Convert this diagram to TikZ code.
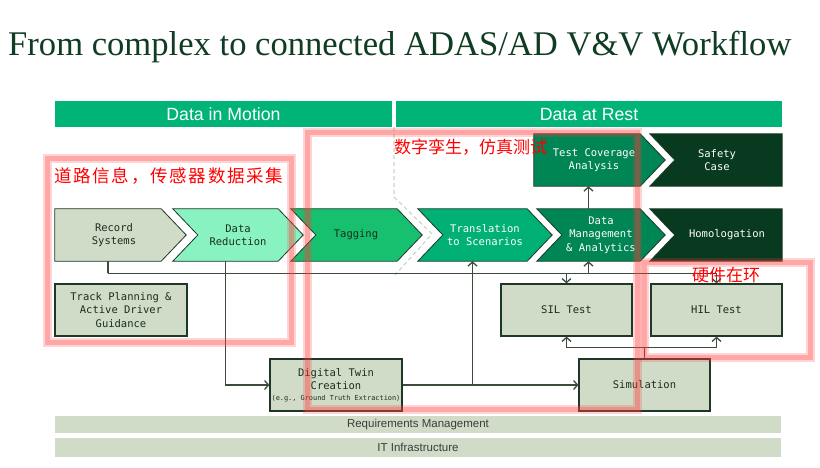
\documentclass[tikz,border=0pt]{standalone}
\usepackage{fontspec}
\setmainfont{Liberation Serif}
\newfontfamily\hdfont{Liberation Sans}
\newfontfamily\chevfont{DejaVu Sans Mono}
\newfontfamily\cjkfont[LetterSpace=10]{Noto Sans CJK SC}
\newfontfamily\cjkfontb{Noto Sans CJK SC}
\usetikzlibrary{arrows.meta}
\definecolor{cTitle}{RGB}{16,60,35}
\definecolor{cHdr}{RGB}{0,180,120}
\definecolor{cRec}{RGB}{208,220,200}
\definecolor{cDR}{RGB}{136,242,192}
\definecolor{cTag}{RGB}{22,192,110}
\definecolor{cTr}{RGB}{0,176,116}
\definecolor{cDM}{RGB}{0,133,84}
\definecolor{cHom}{RGB}{8,58,32}
\definecolor{cBorder}{RGB}{30,55,40}
\definecolor{cDark}{RGB}{25,45,30}
\definecolor{cLine}{RGB}{60,75,60}
\definecolor{cBarTxt}{RGB}{60,60,60}
\definecolor{cDash}{RGB}{200,215,200}
\definecolor{cRed}{RGB}{255,60,60}
\begin{document}
\begin{tikzpicture}[x=1pt,y=-1pt,
  body/.style={inner sep=0pt, minimum height=52pt},
  chev/.style={draw=cBorder, line width=0.8pt, line join=miter},
  ctext/.style={font=\chevfont\fontsize{10.5}{13.5}\selectfont, align=center, inner sep=0pt},
  box/.style={draw=cBorder, line width=1.2pt, fill=cRec, minimum height=52pt, inner sep=0pt,
    font=\chevfont\fontsize{10.5}{13.5}\selectfont, align=center, text=cDark},
  hdr/.style={fill=cHdr, text=white, font=\hdfont\fontsize{17.7}{20}\selectfont, minimum height=26pt, inner sep=0pt},
  bar/.style={fill=cRec, text=cBarTxt, font=\hdfont\fontsize{11.5}{13}\selectfont, inner sep=0pt},
  conn/.style={draw=cLine, line width=1.3pt},
  arr/.style={conn, -{Straight Barb[length=4pt,width=9pt,line width=1.3pt]}},
  dashline/.style={draw=cDash, line width=1.2pt, dash pattern=on 4pt off 3pt},
  redouter/.style={draw=cRed, line width=9pt, opacity=0.22},
  redinner/.style={draw=cRed, line width=5pt, opacity=0.3},
  redtext/.style={text=red, inner sep=0pt, anchor=west}
]
\fill[white] (0,0) rectangle (820,467);
\useasboundingbox (0,0) rectangle (820,467);

% title
\node[anchor=base west, inner sep=0pt, text=cTitle, font=\fontsize{34.6}{40}\selectfont] (title) at (8,55) {From complex to connected ADAS/AD V\&V Workflow};

% headers
\node[hdr, minimum width=337pt] (dim) at (223.5,114) {Data in Motion};
\node[hdr, minimum width=386pt] (dar) at (589,114) {Data at Rest};

% dashed separator
\draw[dashline] (394,127) -- (394,197) -- (432,234) -- (395,275);

% chevron bodies
\node[body, minimum width=106pt] (rec) at (108,235) {};
\node[body, minimum width=105pt] (dr) at (225.5,235) {};
\node[body, minimum width=106pt] (tag) at (344,235) {};
\node[body, minimum width=109pt] (tr) at (472.5,235) {};
\node[body, minimum width=103pt] (dm) at (588.5,235) {};
\node[body, minimum width=132pt] (hom) at (716,235) {};
\node[body, minimum width=106pt] (tc) at (587,160) {};
\node[body, minimum width=132pt] (saf) at (716,160) {};

\path[chev, fill=cRec] (rec.north west) -- (rec.north east) -- ([xshift=25pt]rec.east) -- (rec.south east) -- (rec.south west) -- cycle;
\path[chev, fill=cDR] (dr.north west) -- (dr.north east) -- ([xshift=25pt]dr.east) -- (dr.south east) -- (dr.south west) -- ([xshift=25pt]dr.west) -- cycle;
\path[chev, fill=cTag] (tag.north west) -- (tag.north east) -- ([xshift=25pt]tag.east) -- (tag.south east) -- (tag.south west) -- ([xshift=25pt]tag.west) -- cycle;
\path[chev, fill=cTr] (tr.north west) -- (tr.north east) -- ([xshift=25pt]tr.east) -- (tr.south east) -- (tr.south west) -- ([xshift=25pt]tr.west) -- cycle;
\path[chev, fill=cDM] (dm.north west) -- (dm.north east) -- ([xshift=25pt]dm.east) -- (dm.south east) -- (dm.south west) -- ([xshift=25pt]dm.west) -- cycle;
\path[chev, fill=cHom] (hom.north west) -- (hom.north east) -- (hom.south east) -- (hom.south west) -- ([xshift=25pt]hom.west) -- cycle;
\path[chev, fill=cDM] (tc.north west) -- (tc.north east) -- ([xshift=25pt]tc.east) -- (tc.south east) -- (tc.south west) -- cycle;
\path[chev, fill=cHom] (saf.north west) -- (saf.north east) -- (saf.south east) -- (saf.south west) -- ([xshift=25pt]saf.west) -- cycle;

% chevron texts
\node[ctext, text=cDark] (rec-t) at (114,235) {Record\\Systems};
\node[ctext, text=cDark] (dr-t) at (238,235) {Data\\Reduction};
\node[ctext, text=cDark] (tag-t) at (356,235) {Tagging};
\node[ctext, text=white] (tr-t) at (485,235) {Translation\\to Scenarios};
\node[ctext, text=white] (dm-t) at (601,235) {Data\\Management\\\& Analytics};
\node[ctext, text=white] (hom-t) at (727,235) {Homologation};
\node[ctext, text=white] (tc-t) at (594,160) {Test Coverage\\Analysis};
\node[ctext, text=white] (saf-t) at (717,160) {Safety\\Case};

% boxes
\node[box, minimum width=132pt] (trk) at (121,310) {Track Planning \&\\Active Driver\\Guidance};
\node[box, minimum width=131pt] (sil) at (566.5,310) {SIL Test};
\node[box, minimum width=131pt] (hil) at (716.5,310) {HIL Test};
\node[box, minimum width=132pt] (dt) at (336,385) {Digital Twin\\Creation\\[-3pt]{\fontsize{6.9}{8}\selectfont (e.g., Ground Truth Extraction)}};
\node[box, minimum width=131pt] (sim) at (644.5,385) {Simulation};

% bottom bars
\node[bar, minimum width=726pt, minimum height=17pt] (req) at (418,424.5) {Requirements Management};
\node[bar, minimum width=726pt, minimum height=19pt] (it) at (418,447.5) {IT Infrastructure};

% connectors
\path (rec.south) ++(0,12) coordinate (bus);
\draw[conn] (rec.south) -- (bus);
\draw[arr] (bus) -| (hil.north);
\draw[arr] (bus -| sil.north) -- (sil.north);
\draw[arr] (bus -| dm.south) -- (dm.south);
\draw[arr] (dr.south) |- (dt.west);
\draw[arr] (dt.east) -- (sim.west);
\draw[arr] (dt.east -| tr.south) -- (tr.south);
\draw[arr] (dm.north) -- (dm.north |- tc.south);
\path (sim.north) ++(0,-11) coordinate (sj);
\draw[conn] (sim.north) -- (sj);
\draw[arr] (sj) -| (sil.south);
\draw[arr] (sj) -| (hil.south);

% red annotations
\draw[redouter] (47,158) rectangle (291,342);
\draw[redinner] (47,158) rectangle (291,342);
\draw[redouter] (307,132) rectangle (637,409);
\draw[redinner] (307,132) rectangle (637,409);
\draw[redouter] (644,262) rectangle (810,357);
\draw[redinner] (644,262) rectangle (810,357);
\node[redtext, font=\cjkfont\fontsize{17.5}{20}\selectfont] (lab1) at (54,176) {道路信息，传感器数据采集};
\node[redtext, font=\cjkfontb\fontsize{17}{20}\selectfont] (lab2) at (394,147) {数字孪生，仿真测试};
\node[redtext, font=\cjkfontb\fontsize{17}{20}\selectfont] (lab3) at (692,275) {硬件在环};
\end{tikzpicture}
\end{document}
